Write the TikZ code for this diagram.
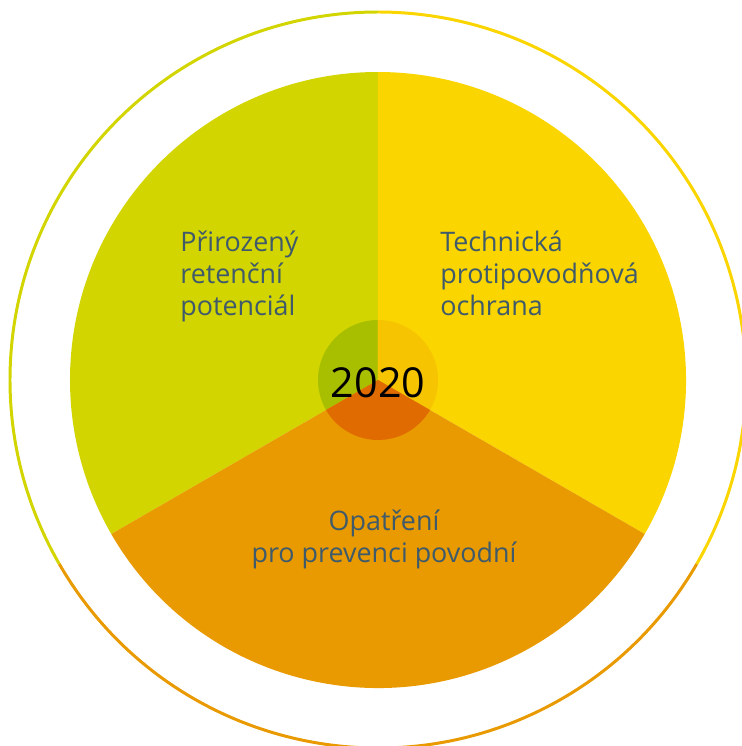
\documentclass[tikz,border=0pt]{standalone}
\usepackage{fontspec}
\setmainfont{Open Sans}
\definecolor{retence}{HTML}{D3D500}
\definecolor{retencestred}{HTML}{A8BF00}
\definecolor{technika}{HTML}{FAD500}
\definecolor{technikastred}{HTML}{F6C400}
\definecolor{prevence}{HTML}{E89A00}
\definecolor{prevencestred}{HTML}{E06B00}
\definecolor{popis}{HTML}{3F5A6B}
\tikzset{
    popisek/.style={text=popis, inner sep=0pt, font=\fontsize{15.3}{18}\selectfont},
    rok/.style={text=black, inner sep=0pt, font=\fontsize{23.5}{26}\selectfont}
}
\begin{document}
\begin{tikzpicture}[scale=0.02]
        \useasboundingbox (-378,-366) rectangle (364,380);
        \foreach \a/\b/\c in {90/210/retence,-30/90/technika,210/330/prevence}{
            \fill[\c] (0,0) -- (\a:308) arc[start angle=\a, end angle=\b, radius=308] -- cycle;
            \fill[\c stred] (0,0) -- (\a:60) arc[start angle=\a, end angle=\b, radius=60] -- cycle;
            \draw[\c, line width=1.7pt] (\a:368) arc[start angle=\a, end angle=\b, radius=368];
        }

        \node[rok] (rok) at (0,-3){2020};

        \node[popisek, anchor=north west, align=left] (retencni) at (-198,149){Přirozený\\retenční\\potenciál};
        \node[popisek, anchor=north west, align=left] (technicka) at (62,149){Technická\\protipovodňová\\ochrana};
        \node[popisek, anchor=north, align=center] (prevence) at (6,-130){Opatření\\pro prevenci povodní};
    \end{tikzpicture}
\end{document}
